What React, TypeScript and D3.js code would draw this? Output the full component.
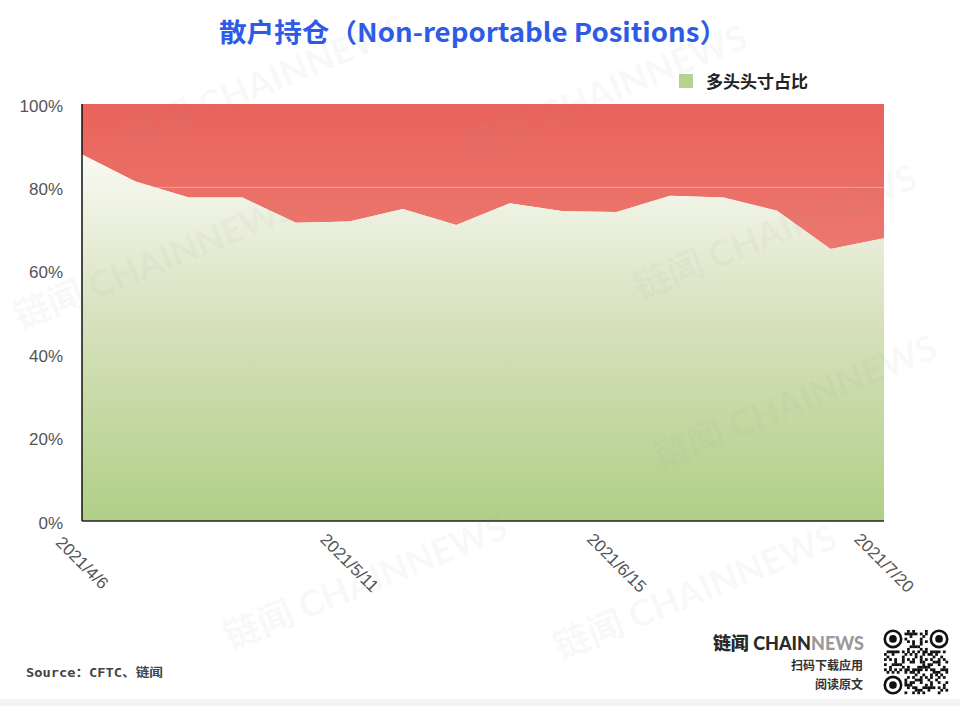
import React, { useRef, useEffect } from 'react';
import * as d3 from 'd3';

// 每周数据（CFTC 报告日）
const dates = [
  '2021/4/6', '2021/4/13', '2021/4/20', '2021/4/27', '2021/5/4', '2021/5/11',
  '2021/5/18', '2021/5/25', '2021/6/1', '2021/6/8', '2021/6/15', '2021/6/22',
  '2021/6/29', '2021/7/6', '2021/7/13', '2021/7/20'
];
// 多头头寸占比 (%)
const longShare = [
  87.9, 81.4, 77.6, 77.6, 71.5, 71.8, 74.8, 71.0,
  76.2, 74.3, 74.1, 78.0, 77.6, 74.4, 65.2, 67.8
];
const xTickLabels = ['2021/4/6', '2021/5/11', '2021/6/15', '2021/7/20'];
const yTicks = [0, 20, 40, 60, 80, 100];

const W = 960;
const H = 706;

const App = () => {
  const svgRef = useRef<SVGSVGElement | null>(null);

  useEffect(() => {
    const margin = { top: 104, right: 76, bottom: 185, left: 82 };
    const x = d3.scalePoint<string>()
      .domain(dates)
      .range([margin.left, W - margin.right]);
    const y = d3.scaleLinear()
      .domain([0, 100])
      .range([H - margin.bottom, margin.top]);

    const data = dates.map((d, i) => ({ date: d, value: longShare[i] }));

    const svg = d3.select(svgRef.current);
    svg.selectAll('*').remove();

    const defs = svg.append('defs');

    const red = defs.append('linearGradient')
      .attr('id', 'red-grad')
      .attr('gradientUnits', 'userSpaceOnUse')
      .attr('x1', 0).attr('y1', y(100))
      .attr('x2', 0).attr('y2', y(62));
    red.append('stop').attr('offset', '0%').attr('stop-color', '#e8635b');
    red.append('stop').attr('offset', '100%').attr('stop-color', '#ed7a71');

    const green = defs.append('linearGradient')
      .attr('id', 'green-grad')
      .attr('gradientUnits', 'userSpaceOnUse')
      .attr('x1', 0).attr('y1', y(90))
      .attr('x2', 0).attr('y2', y(0));
    green.append('stop').attr('offset', '0%').attr('stop-color', '#fbfbf6');
    green.append('stop').attr('offset', '45%').attr('stop-color', '#d8e2bf');
    green.append('stop').attr('offset', '100%').attr('stop-color', '#b1cf87');

    // 空头（剩余）区域
    const redArea = d3.area<{ date: string, value: number }>()
      .x(d => x(d.date)!)
      .y0(y(100))
      .y1(d => y(d.value));

    svg.append('path')
      .datum(data)
      .attr('fill', 'url(#red-grad)')
      .attr('d', redArea);

    defs.append('clipPath').attr('id', 'red-clip')
      .append('path').datum(data).attr('d', redArea);

    // 多头区域
    const greenArea = d3.area<{ date: string, value: number }>()
      .x(d => x(d.date)!)
      .y0(y(0))
      .y1(d => y(d.value));

    svg.append('path')
      .datum(data)
      .attr('fill', 'url(#green-grad)')
      .attr('d', greenArea);

    // 网格线（只在红色区域可见）
    svg.append('g')
      .attr('clip-path', 'url(#red-clip)')
      .selectAll('line')
      .data(yTicks.filter(t => t > 0 && t < 100))
      .join('line')
      .attr('x1', x.range()[0]).attr('x2', x.range()[1])
      .attr('y1', d => y(d)).attr('y2', d => y(d))
      .attr('stroke', '#fff')
      .attr('stroke-opacity', 0.35)
      .attr('stroke-width', 1);

    // 坐标轴
    svg.append('line')
      .attr('x1', x.range()[0]).attr('x2', x.range()[0])
      .attr('y1', y(100)).attr('y2', y(0))
      .attr('stroke', '#111').attr('stroke-width', 1.5);
    svg.append('line')
      .attr('x1', x.range()[0]).attr('x2', x.range()[1])
      .attr('y1', y(0)).attr('y2', y(0))
      .attr('stroke', '#222').attr('stroke-width', 1.5);

    svg.append('g')
      .selectAll('text')
      .data(yTicks)
      .join('text')
      .attr('x', 63)
      .attr('y', d => y(d) + 2)
      .attr('text-anchor', 'end')
      .attr('dominant-baseline', 'central')
      .attr('font-family', '"Liberation Sans", Arial, sans-serif')
      .attr('font-size', 17)
      .attr('fill', '#555')
      .text(d => `${d}%`);

    svg.append('g')
      .selectAll('text')
      .data(xTickLabels)
      .join('text')
      .attr('transform', d => `translate(${x(d)},${y(0) + 42}) rotate(45)`)
      .attr('text-anchor', 'middle')
      .attr('dominant-baseline', 'central')
      .attr('font-family', '"Liberation Sans", Arial, sans-serif')
      .attr('font-size', 17)
      .attr('fill', '#555')
      .text(d => d);

    // 标题
    svg.append('text')
      .attr('x', 219).attr('y', 42)
      .attr('textLength', 508)
      .attr('lengthAdjust', 'spacingAndGlyphs')
      .attr('font-family', '"Noto Sans CJK SC", sans-serif')
      .attr('font-weight', 700)
      .attr('font-size', 26)
      .attr('fill', '#2d5be6')
      .text('散户持仓（Non-reportable Positions）');

    // 图例
    svg.append('rect')
      .attr('x', 679).attr('y', 74)
      .attr('width', 14).attr('height', 14)
      .attr('fill', '#b5d38f');
    svg.append('text')
      .attr('x', 706).attr('y', 88)
      .attr('font-family', '"Noto Sans CJK SC", sans-serif')
      .attr('font-weight', 700)
      .attr('font-size', 17)
      .attr('fill', '#222')
      .text('多头头寸占比');

    // 来源
    svg.append('text')
      .attr('x', 26).attr('y', 677)
      .attr('textLength', 137)
      .attr('lengthAdjust', 'spacingAndGlyphs')
      .attr('font-family', '"DejaVu Sans Mono", "Noto Sans CJK SC", monospace')
      .attr('font-weight', 700)
      .attr('font-size', 12)
      .attr('fill', '#444')
      .text('Source：CFTC、链闻');

    // 页脚 logo
    const logo = svg.append('text')
      .attr('x', 864).attr('y', 650)
      .attr('text-anchor', 'end')
      .attr('font-family', 'Lato, "Noto Sans CJK SC", sans-serif')
      .attr('font-weight', 900)
      .attr('font-size', 18);
    logo.append('tspan').attr('fill', '#2a2a2a').text('链闻 CHAIN');
    logo.append('tspan').attr('fill', '#9a9a9a').text('NEWS');

    svg.append('text')
      .attr('x', 863).attr('y', 670)
      .attr('text-anchor', 'end')
      .attr('font-family', '"Noto Sans CJK SC", sans-serif')
      .attr('font-weight', 700)
      .attr('font-size', 12)
      .attr('fill', '#333')
      .text('扫码下载应用');
    svg.append('text')
      .attr('x', 863).attr('y', 689)
      .attr('text-anchor', 'end')
      .attr('font-family', '"Noto Sans CJK SC", sans-serif')
      .attr('font-weight', 700)
      .attr('font-size', 12)
      .attr('fill', '#333')
      .text('阅读原文');

    // 二维码（装饰）
    const qr = svg.append('g').attr('transform', 'translate(884,630)');
    const cell = 64 / 25;
    const seed = 'chainnews-cftc-nonreportable';
    for (let r = 0; r < 25; r++) {
      for (let c = 0; c < 25; c++) {
        const inFinder = (r < 8 && c < 8) || (r < 8 && c > 16) || (r > 16 && c < 8);
        if (inFinder) continue;
        const h = (seed.charCodeAt((r * 7 + c * 3) % seed.length) * (r + 3) * (c + 5) + r * c) % 7;
        if (h < 3) {
          qr.append('rect')
            .attr('x', c * cell).attr('y', r * cell)
            .attr('width', cell + 0.2).attr('height', cell + 0.2)
            .attr('fill', '#111');
        }
      }
    }
    [[0, 0], [18, 0], [0, 18]].forEach(([cx, cy]) => {
      const fx = cx * cell + 3.5 * cell;
      const fy = cy * cell + 3.5 * cell;
      qr.append('circle').attr('cx', fx).attr('cy', fy).attr('r', 3.2 * cell)
        .attr('fill', 'none').attr('stroke', '#111').attr('stroke-width', cell);
      qr.append('circle').attr('cx', fx).attr('cy', fy).attr('r', 1.5 * cell).attr('fill', '#111');
    });

    // 底部浅灰条
    svg.append('rect')
      .attr('x', 0).attr('y', 699)
      .attr('width', W).attr('height', 7)
      .attr('fill', '#f4f4f4');

    // 水印（浮在图上）
    const wm = svg.append('g')
      .attr('fill', '#999')
      .attr('fill-opacity', 0.07)
      .attr('font-family', 'Lato, "Noto Sans CJK SC", sans-serif')
      .attr('font-weight', 700)
      .attr('font-size', 36)
      .style('pointer-events', 'none');
    [[130, 150], [470, 160], [640, 300], [20, 330], [230, 650], [560, 660], [660, 470]].forEach(([wx, wy]) => {
      wm.append('text')
        .attr('transform', `translate(${wx},${wy}) rotate(-22)`)
        .text('链闻 CHAINNEWS');
    });
  }, []);

  return (
    <svg
      ref={svgRef}
      width={W}
      height={H}
      style={{ position: 'absolute', left: 0, top: 0, background: '#fff', display: 'block' }}
    />
  );
};

export default App;
